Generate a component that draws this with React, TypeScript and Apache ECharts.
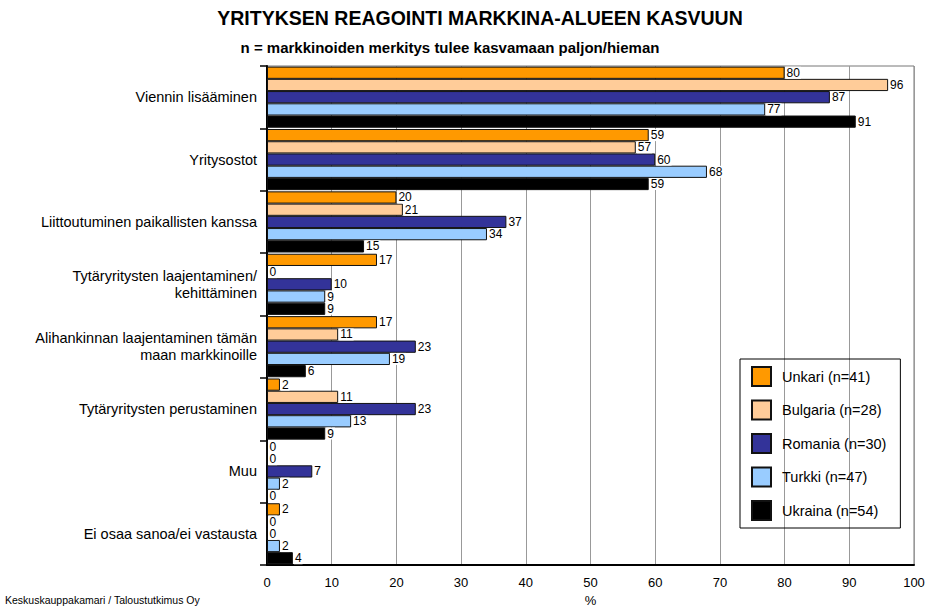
import React, { useEffect, useRef } from "react";
import * as echarts from "echarts";

const categories = [
  "Viennin lisääminen",
  "Yritysostot",
  "Liittoutuminen paikallisten kanssa",
  "Tytäryritysten laajentaminen/\nkehittäminen",
  "Alihankinnan laajentaminen tämän\nmaan markkinoille",
  "Tytäryritysten perustaminen",
  "Muu",
  "Ei osaa sanoa/ei vastausta",
];

const seriesNames = ["Unkari (n=41)", "Bulgaria (n=28)", "Romania (n=30)", "Turkki (n=47)", "Ukraina (n=54)"];
const unkari = [80, 59, 20, 17, 17, 2, 0, 2];
const bulgaria = [96, 57, 21, 0, 11, 11, 0, 0];
const romania = [87, 60, 37, 10, 23, 23, 7, 0];
const turkki = [77, 68, 34, 9, 19, 13, 2, 2];
const ukraina = [91, 59, 15, 9, 6, 9, 0, 4];
const seriesData = [unkari, bulgaria, romania, turkki, ukraina];
const colors = ["#FF9900", "#FFCC99", "#333399", "#99CCFF", "#000000"];

const FONT = "Liberation Sans, Arial, sans-serif";

export default function App() {
  const ref = useRef<HTMLDivElement>(null);
  useEffect(() => {
    if (!ref.current) return;
    const chart = echarts.init(ref.current, null, { renderer: "svg" });
    chart.setOption({
      animation: false,
      backgroundColor: "#fff",
      textStyle: { fontFamily: FONT },
      title: [
        {
          text: "YRITYKSEN REAGOINTI MARKKINA-ALUEEN KASVUUN",
          left: 475,
          textAlign: "center",
          top: 3,
          padding: 5,
          textStyle: { fontSize: 19.5, fontWeight: "bold", color: "#000", fontFamily: FONT },
        },
        {
          text: "n = markkinoiden merkitys tulee kasvamaan paljon/hieman",
          left: 445,
          textAlign: "center",
          top: 35,
          padding: 5,
          textStyle: { fontSize: 15, fontWeight: "bold", color: "#000", fontFamily: FONT },
        },
        {
          text: "Keskuskauppakamari / Taloustutkimus Oy",
          left: 0,
          top: 589,
          padding: 5,
          textStyle: { fontSize: 10.5, fontWeight: "normal", color: "#000", fontFamily: FONT },
        },
      ],
      legend: {
        orient: "vertical",
        left: 740,
        top: 359,
        itemWidth: 19,
        itemHeight: 19,
        itemGap: 12.5,
        padding: [7, 14, 7, 11],
        borderColor: "#000",
        borderWidth: 1,
        icon: "rect",
        data: seriesNames,
        textStyle: { fontSize: 14.5, color: "#000", fontFamily: FONT, padding: [0, 0, 0, 6] },
      },
      grid: {
        left: 267,
        right: 17,
        top: 66,
        bottom: 43,
        outerBoundsMode: "none",
        containLabel: false,
        show: true,
        borderColor: "#777",
        borderWidth: 1,
      },
      xAxis: {
        type: "value",
        min: 0,
        max: 100,
        interval: 10,
        name: "%",
        nameLocation: "middle",
        nameGap: 29,
        nameTextStyle: { fontSize: 13, color: "#000", fontFamily: FONT },
        axisLine: { show: true, lineStyle: { color: "#000", width: 2 } },
        axisTick: { show: false },
        axisLabel: { fontSize: 13, color: "#000", margin: 11, fontFamily: FONT },
        splitLine: { show: true, lineStyle: { color: "#999", width: 1 } },
      },
      yAxis: {
        type: "category",
        inverse: true,
        data: categories,
        axisLine: { show: true, lineStyle: { color: "#000", width: 2 } },
        axisTick: { show: true, length: 7, lineStyle: { color: "#000", width: 1.5 } },
        axisLabel: { fontSize: 14.5, color: "#000", margin: 10, lineHeight: 17, fontFamily: FONT },
        splitLine: { show: false },
      },
      series: seriesNames.map((name, i) => ({
        name,
        type: "bar",
        data: seriesData[i],
        barGap: "0%",
        barCategoryGap: "2%",
        itemStyle: { color: colors[i], borderColor: "#111", borderWidth: 1 },
        label: {
          show: true,
          position: "right",
          distance: 1,
          fontSize: 12,
          color: "#000",
          fontFamily: FONT,
          backgroundColor: "#fff",
          padding: [0, 1],
        },
      })),
    });
    return () => chart.dispose();
  }, []);
  return <div ref={ref} style={{ width: 931, height: 608, position: "absolute", left: 0, top: 0 }} />;
}
